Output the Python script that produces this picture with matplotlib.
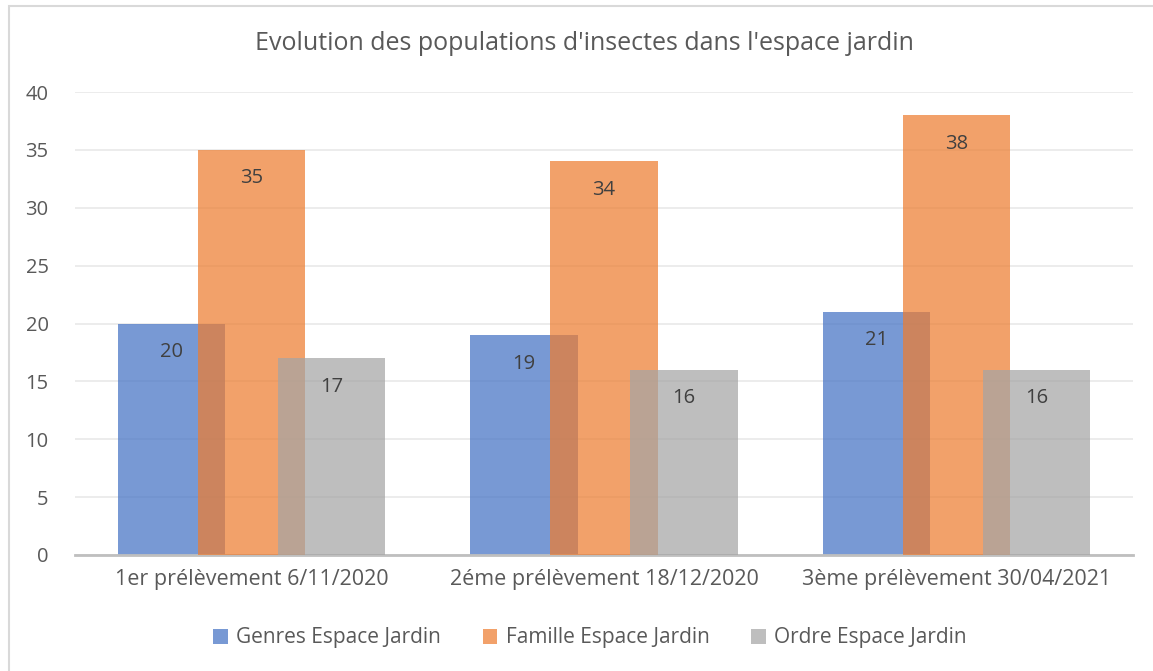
import numpy as np
import matplotlib.pyplot as plt
from matplotlib.patches import Rectangle

categories = ['1er prélèvement 6/11/2020', '2éme prélèvement 18/12/2020', '3ème prélèvement 30/04/2021']
series_names = ['Genres Espace Jardin', 'Famille Espace Jardin', 'Ordre Espace Jardin']
genres = [20, 19, 21]
famille = [35, 34, 38]
ordre = [17, 16, 16]
colors = ['#4472C4', '#ED7D31', '#A5A5A5']

plt.rcParams['font.family'] = ['Open Sans', 'DejaVu Sans']

fig = plt.figure(figsize=(11.53, 6.71), dpi=100)
W, H = 1153, 671
ax = fig.add_axes([75 / W, 1 - 555 / H, 1058 / W, (555 - 92) / H])

# outer chart frame (cut by the screenshot on the right/bottom)
fig.patches.append(Rectangle((9 / W, -0.1), 1.2, 1 - 6 / H + 0.1, transform=fig.transFigure,
                             fill=False, edgecolor='#D9D9D9', linewidth=1.5))

x = np.arange(len(categories))
width = 0.304
offset = 0.227
for i, (vals, name) in enumerate(zip([genres, famille, ordre], series_names)):
    bars = ax.bar(x + (i - 1) * offset, vals, width, color=colors[i], alpha=0.72,
                  label=name, zorder=2 + i)
    for b, v in zip(bars, vals):
        ax.text(b.get_x() + b.get_width() / 2, v - 1.6, str(v), ha='center', va='top',
                fontsize=14.5, color='#404040', zorder=10)

ax.set_xlim(-0.5, 2.5)
ax.set_ylim(0, 40)
ax.set_yticks(range(0, 41, 5))
ax.set_xticks(x)
ax.set_xticklabels(categories, fontsize=15.5)
ax.grid(axis='y', color='#EBEBEB', linewidth=1.3, zorder=0)
ax.set_axisbelow(True)
for s in ['top', 'right', 'left']:
    ax.spines[s].set_visible(False)
ax.spines['bottom'].set_color('#BFBFBF')
ax.spines['bottom'].set_linewidth(2)
ax.tick_params(axis='both', length=0, colors='#595959')
ax.tick_params(axis='y', pad=19, labelsize=14.5)
ax.tick_params(axis='x', pad=10)

fig.text(584 / W, 1 - 44 / H, "Evolution des populations d'insectes dans l'espace jardin",
         ha='center', va='center', fontsize=18, color='#595959')

ax.legend(loc='center', bbox_to_anchor=(590 / W, 1 - 638 / H), bbox_transform=fig.transFigure,
          ncol=3, frameon=False, fontsize=15, labelcolor='#595959',
          handlelength=0.7, handleheight=0.7, columnspacing=2.0, handletextpad=0.4)

fig.savefig('out.png', dpi=100)
